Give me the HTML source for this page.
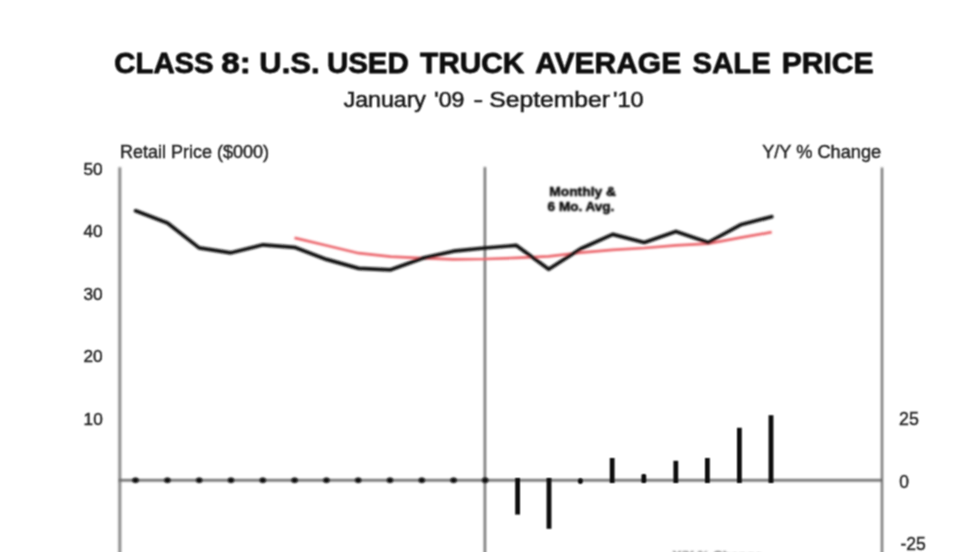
<!DOCTYPE html>
<html>
<head>
<meta charset="utf-8">
<title>Class 8: U.S. Used Truck Average Sale Price</title>
<style>
html,body{margin:0;padding:0;background:#fff;}
body{width:980px;height:552px;overflow:hidden;font-family:"Liberation Sans",sans-serif;}
svg{display:block;}
text{font-family:"Liberation Sans",sans-serif;}
</style>
</head>
<body>
<svg width="980" height="552" viewBox="0 0 980 552">
  <defs>
    <filter id="soft" filterUnits="userSpaceOnUse" x="0" y="0" width="980" height="560"><feConvolveMatrix order="5" kernelMatrix="1 4 6 4 1 4 16 24 16 4 6 24 36 24 6 4 16 24 16 4 1 4 6 4 1" divisor="256" edgeMode="none" preserveAlpha="false"/></filter>
    <filter id="soft2" filterUnits="userSpaceOnUse" x="0" y="0" width="980" height="560"><feConvolveMatrix order="3" kernelMatrix="1 2 1 2 4 2 1 2 1" divisor="16" edgeMode="none" preserveAlpha="false"/></filter>
    <filter id="soft3" filterUnits="userSpaceOnUse" x="0" y="0" width="980" height="560"><feGaussianBlur stdDeviation="0.8"/></filter>
    <filter id="softax" filterUnits="userSpaceOnUse" x="0" y="0" width="980" height="560"><feGaussianBlur stdDeviation="0.8"/></filter>
    <filter id="softax2" filterUnits="userSpaceOnUse" x="0" y="0" width="980" height="560"><feGaussianBlur stdDeviation="0.8"/></filter>
  </defs>
  <rect x="0" y="0" width="980" height="552" fill="#ffffff"/>

  <!-- title -->
  <g filter="url(#soft2)">
    <g font-size="29.8" font-weight="bold" fill="#0c0c0c" stroke="#0c0c0c" stroke-width="0.8" stroke-linejoin="round">
      <text x="114.32" y="73.2" textLength="99.36" lengthAdjust="spacingAndGlyphs">CLASS</text>
      <text x="221.3" y="73.2" textLength="29.6" lengthAdjust="spacingAndGlyphs">8:</text>
      <text x="259.38" y="73.2" textLength="60.26" lengthAdjust="spacingAndGlyphs">U.S.</text>
      <text x="326.97" y="73.2" textLength="81.81" lengthAdjust="spacingAndGlyphs">USED</text>
      <text x="420.1" y="73.2" textLength="104.3" lengthAdjust="spacingAndGlyphs">TRUCK</text>
      <text x="535.20" y="73.2" textLength="145.97" lengthAdjust="spacingAndGlyphs">AVERAGE</text>
      <text x="692.6" y="73.2" textLength="78.2" lengthAdjust="spacingAndGlyphs">SALE</text>
      <text x="781.73" y="73.2" textLength="91.95" lengthAdjust="spacingAndGlyphs">PRICE</text>
    </g>
    <g font-size="22.3" fill="#1a1a1a" stroke="#1a1a1a" stroke-width="0.55">
      <text x="343.74" y="107.0" textLength="82.15" lengthAdjust="spacingAndGlyphs">January</text>
      <text x="434.26" y="107.0" textLength="30.20" lengthAdjust="spacingAndGlyphs">'09</text>
      <text x="473.5" y="107.0" textLength="9.6" lengthAdjust="spacingAndGlyphs">-</text>
      <text x="489.29" y="107.0" textLength="120.73" lengthAdjust="spacingAndGlyphs">September</text>
      <text x="613.00" y="107.0" textLength="30.51" lengthAdjust="spacingAndGlyphs">'10</text>
    </g>
  </g>

  <!-- axis titles and tick labels -->
  <g filter="url(#soft2)" font-size="17.5" fill="#262626" stroke="#262626" stroke-width="0.45">
    <text x="120" y="158.3" textLength="149" lengthAdjust="spacingAndGlyphs">Retail Price ($000)</text>
    <text x="762.2" y="158.2" font-size="18" textLength="119" lengthAdjust="spacingAndGlyphs">Y/Y % Change</text>
    <text x="83.4" y="174.6" font-size="17.2">50</text>
    <text x="83.4" y="236.7" font-size="17.2">40</text>
    <text x="83.4" y="299.6" font-size="17.2">30</text>
    <text x="83.4" y="361.9" font-size="17.2">20</text>
    <text x="83.6" y="425.2" font-size="17.2">10</text>
    <text x="899" y="425.4" font-size="18.8" textLength="19.8" lengthAdjust="spacingAndGlyphs">25</text>
    <text x="899.2" y="487.5" font-size="18.8" textLength="9.7" lengthAdjust="spacingAndGlyphs">0</text>
    <text x="900.4" y="550.3" font-size="18.8" textLength="25.4" lengthAdjust="spacingAndGlyphs">-25</text>
  </g>

  <!-- axes -->
  <g filter="url(#softax)" fill="none">
    <line x1="119.8" y1="167.3" x2="119.8" y2="560" stroke="#7e7e7e" stroke-width="2.7"/>
  </g>

  <g filter="url(#softax2)" fill="none">
    <line x1="484.9" y1="167" x2="484.9" y2="560" stroke="#5a5a5a" stroke-width="2.1"/>
    <line x1="119" y1="480.3" x2="882" y2="480.3" stroke="#646464" stroke-width="2.5"/>
    <line x1="882" y1="167.5" x2="882" y2="560" stroke="#606060" stroke-width="2.1"/>
  </g>

  <!-- red 6 month average -->
  <g filter="url(#soft)" fill="none" stroke-linejoin="round" stroke-linecap="butt">
    <polyline stroke="#ec686e" stroke-width="2.7" points="294.5,237.9 326.5,245.5 358.7,253.2 390.6,256.6 421.9,258.2 453.3,259.3 484.8,259 516.4,257.9 548.7,256.4 580.7,252.7 612.7,249.8 644.3,248 675.9,245.4 708.2,243.6 740.5,237.7 771.7,232.2"/>
    <!-- black monthly -->
    <polyline stroke="#101010" stroke-linecap="round" stroke-width="3.7" points="135.6,210.8 167.5,223 199.1,247.9 231,252.8 263,244.8 294.5,247.3 326.5,259.4 358.7,268.4 390.6,269.8 421.9,258.4 453.5,251.2 484.8,248 516.4,245.4 548.7,269.3 580.7,248.7 612.7,234.4 644.3,242.5 675.9,231.4 708.2,242.5 740.5,224.8 771.7,216.7"/>
  </g>

  <!-- legend text -->
  <g filter="url(#soft)" font-size="13.6" font-weight="bold" fill="#060606" stroke="#060606" stroke-width="0.45">
    <text x="549.2" y="195.6" textLength="66.8" lengthAdjust="spacingAndGlyphs">Monthly &amp;</text>
    <text x="547.6" y="211.2" textLength="66.8" lengthAdjust="spacingAndGlyphs">6 Mo. Avg.</text>
  </g>

  <!-- zero dots -->
  <g filter="url(#soft)" fill="#0c0c0c">
    <ellipse cx="135.5" cy="480.2" rx="3.1" ry="2.7"/>
    <ellipse cx="167.4" cy="480.2" rx="3.1" ry="2.7"/>
    <ellipse cx="199.2" cy="480.2" rx="3.1" ry="2.7"/>
    <ellipse cx="231" cy="480.2" rx="3.1" ry="2.7"/>
    <ellipse cx="262.8" cy="480.2" rx="3.1" ry="2.7"/>
    <ellipse cx="294.6" cy="480.2" rx="3.1" ry="2.7"/>
    <ellipse cx="326.4" cy="480.2" rx="3.1" ry="2.7"/>
    <ellipse cx="358.2" cy="480.2" rx="3.1" ry="2.7"/>
    <ellipse cx="390" cy="480.2" rx="3.1" ry="2.7"/>
    <ellipse cx="421.8" cy="480.2" rx="3.1" ry="2.7"/>
    <ellipse cx="453.6" cy="480.2" rx="3.1" ry="2.7"/>
    <ellipse cx="485.2" cy="480.2" rx="3.1" ry="2.7"/>
  </g>

  <!-- bars -->
  <g filter="url(#soft2)" fill="#0c0c0c">
    <rect x="515.2" y="478" width="4.8" height="36.6"/>
    <rect x="546.6" y="478" width="4.8" height="50.8"/>
    <ellipse cx="580.4" cy="481.1" rx="2.5" ry="2.9"/>
    <rect x="609.8" y="458" width="4.8" height="25"/>
    <rect x="641.4" y="474" width="4.8" height="9" rx="1.5"/>
    <rect x="673.4" y="460.8" width="4.8" height="22.2"/>
    <rect x="705" y="458" width="4.8" height="25"/>
    <rect x="737" y="427.8" width="4.8" height="55.2"/>
    <rect x="768.6" y="415.2" width="4.8" height="67.8"/>
  </g>

  <!-- clipped caption at bottom -->
  <g filter="url(#soft3)" font-size="13.4" font-weight="bold" fill="#6a6a6a">
    <text x="672.4" y="559.5">Y/Y % Change</text>
  </g>
</svg>
</body>
</html>
